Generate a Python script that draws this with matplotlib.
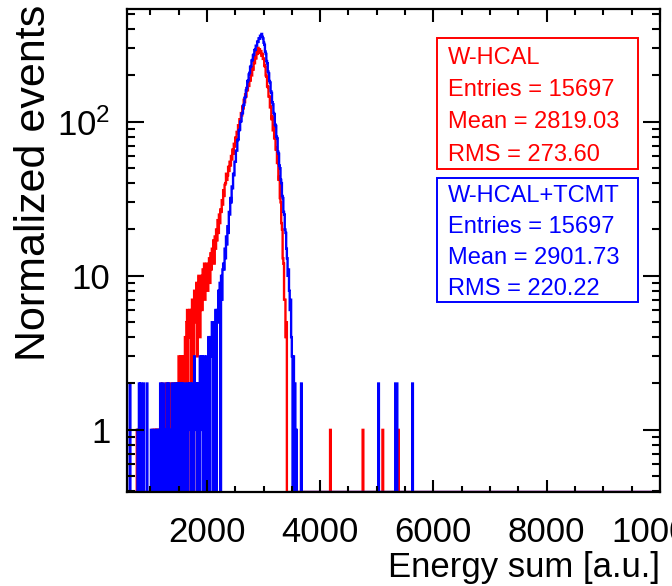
import numpy as np
import matplotlib
matplotlib.use("Agg")
import matplotlib.pyplot as plt
from matplotlib.patches import Rectangle
from matplotlib.ticker import FixedLocator, FixedFormatter, NullFormatter

plt.rcParams.update({
    "font.family": ["Liberation Sans", "DejaVu Sans"],
    "mathtext.fontset": "custom",
    "mathtext.rm": "Liberation Sans",
})

# histogram binning (ROOT style: 800 bins over 0..10000)
BIN_W = 12.5
X_MAX = 10000.0
CORE_START = 600.0   # first bin of the core lists below

# W-HCAL bin contents, 600..3600, one row = 100 units (8 bins)
red_core = [
    0, 0, 0, 0, 0, 0, 0, 0,
    0, 0, 0, 0, 0, 1, 0, 0,
    1, 0, 0, 1, 1, 0, 0, 0,
    0, 0, 0, 0, 0, 0, 0, 0,
    0, 0, 0, 1, 0, 0, 1, 0,
    1, 0, 1, 0, 0, 1, 0, 1,
    2, 0, 1, 1, 0, 1, 2, 0,
    1, 2, 0, 1, 0, 2, 1, 0,
    1, 2, 0, 0, 2, 1, 0, 2,
    3, 1, 0, 3, 1, 2, 3, 0,
    2, 4, 1, 5, 6, 0, 4, 6,
    4, 6, 2, 7, 4, 0, 8, 5,
    7, 9, 3, 8, 10, 7, 4, 8,
    10, 6, 11, 9, 12, 7, 9, 11,
    12, 8, 10, 13, 9, 14, 11, 15,
    14, 17, 12, 18, 15, 20, 17, 23,
    19, 25, 22, 27, 26, 31, 29, 36,
    33, 39, 40, 46, 42, 45, 51, 48,
    55, 52, 60, 57, 66, 62, 72, 69,
    79, 74, 86, 84, 95, 90, 104, 100,
    114, 110, 126, 122, 139, 134, 151, 146,
    165, 160, 178, 171, 192, 185, 206, 200,
    226, 218, 247, 240, 266, 258, 288, 276,
    302, 290, 296, 280, 288, 268, 276, 256,
    258, 232, 228, 200, 196, 170, 168, 146,
    146, 124, 126, 104, 108, 88, 94, 78,
    80, 66, 68, 54, 56, 42, 44, 32,
    30, 22, 20, 13, 12, 7, 7, 4,
    5, 0, 0, 0, 0, 0, 0, 0,
    0, 0, 0, 0, 0, 0, 0, 0,
]

# W-HCAL+TCMT bin contents, 600..3600
blue_core = [
    0, 0, 0, 2, 0, 0, 0, 0,
    0, 0, 0, 0, 0, 0, 1, 0,
    2, 0, 2, 0, 1, 0, 2, 0,
    0, 0, 0, 2, 0, 0, 0, 0,
    0, 1, 0, 0, 0, 1, 0, 0,
    0, 1, 0, 0, 1, 0, 2, 1,
    1, 0, 2, 1, 0, 1, 0, 2,
    0, 1, 2, 0, 1, 0, 0, 2,
    1, 0, 1, 2, 0, 0, 2, 1,
    2, 0, 1, 2, 0, 2, 1, 0,
    1, 2, 0, 1, 0, 2, 1, 2,
    2, 0, 1, 2, 2, 0, 3, 2,
    1, 2, 0, 1, 2, 0, 3, 1,
    2, 3, 0, 3, 1, 0, 2, 3,
    3, 0, 4, 2, 0, 4, 3, 5,
    4, 0, 3, 5, 6, 0, 6, 5,
    8, 5, 9, 0, 10, 7, 11, 12,
    11, 15, 13, 18, 16, 21, 19, 26,
    25, 32, 30, 38, 37, 46, 45, 55,
    55, 65, 65, 76, 77, 88, 89, 100,
    101, 113, 114, 127, 129, 143, 145, 160,
    166, 183, 186, 203, 208, 227, 230, 250,
    252, 270, 274, 292, 294, 312, 312, 332,
    330, 348, 346, 362, 360, 372, 356, 348,
    326, 316, 286, 276, 248, 240, 212, 206,
    184, 180, 158, 154, 134, 130, 114, 112,
    96, 94, 80, 78, 64, 62, 52, 50,
    42, 40, 33, 32, 26, 25, 20, 19,
    15, 13, 10, 11, 8, 6, 7, 4,
    3, 0, 3, 0, 2, 0, 1, 0,
]

# isolated entries in the high-energy tail
red_tail_x = [3665, 4180, 4760, 5100, 5380]
red_tail_n = [1, 1, 1, 1, 1]
blue_tail_x = [3665, 5030, 5330, 5345, 5360, 5630]
blue_tail_n = [2, 2, 2, 2, 2, 2]

red_stats = ["W-HCAL", "Entries = 15697", "Mean = 2819.03", "RMS = 273.60"]
blue_stats = ["W-HCAL+TCMT", "Entries = 15697", "Mean = 2901.73", "RMS = 220.22"]

X_LO, Y_LO, Y_HI = 590, 0.395, 540


def fill_hist(core, tail_x, tail_n):
    edges = np.arange(0, X_MAX + BIN_W, BIN_W)
    counts = np.zeros(len(edges) - 1)
    i0 = int(CORE_START / BIN_W)
    counts[i0:i0 + len(core)] = core
    for x, n in zip(tail_x, tail_n):
        counts[int(x // BIN_W)] += n
    return edges, counts


fig = plt.figure(figsize=(6.72, 5.86), dpi=100)
ax = fig.add_axes([127 / 672, 1 - 492 / 586, (660 - 127) / 672, (492 - 9) / 586])

for core, tx, tn, col in [(red_core, red_tail_x, red_tail_n, "#ff0000"),
                          (blue_core, blue_tail_x, blue_tail_n, "#0000ff")]:
    edges, counts = fill_hist(core, tx, tn)
    # empty bins are drawn on the frame bottom, as ROOT does on a log axis
    ax.stairs(np.where(counts > 0, counts, Y_LO), edges, color=col, lw=1.7,
              baseline=None)

ax.set_yscale("log")
ax.set_xlim(X_LO, X_MAX)
ax.set_ylim(Y_LO, Y_HI)

ax.xaxis.set_major_locator(FixedLocator([2000, 4000, 6000, 8000, 10000]))
ax.xaxis.set_major_formatter(FixedFormatter(["2000", "4000", "6000", "8000", "10000"]))
ax.xaxis.set_minor_locator(FixedLocator(np.arange(1000, 10000, 500)))
ax.yaxis.set_major_locator(FixedLocator([1, 10, 100]))
ax.yaxis.set_major_formatter(FixedFormatter(["1", "10", r"$\mathregular{10^{2}}$"]))
minors = [m * 10.0 ** e for e in (-1, 0, 1, 2) for m in range(2, 10)]
ax.yaxis.set_minor_locator(FixedLocator(minors))
ax.yaxis.set_minor_formatter(NullFormatter())

ax.tick_params(axis="both", which="both", direction="in", top=True, right=True,
               width=1.5, labelsize=25)
ax.tick_params(axis="x", which="major", length=9, pad=17)
ax.tick_params(axis="x", which="minor", length=4.5)
ax.tick_params(axis="y", which="major", length=12, pad=12)
ax.tick_params(axis="y", which="minor", length=6)
for s in ax.spines.values():
    s.set_linewidth(1.6)

ax.set_xlabel("Energy sum [a.u.]", fontsize=25, loc="right", labelpad=2)
ax.set_ylabel("Normalized events", fontsize=31, loc="top")
ax.yaxis.set_label_coords(-0.137, 1.008)


def stats_box(y_top, y_bot, lines, col, baselines):
    fig.patches.append(Rectangle((437 / 672, 1 - y_bot / 586), (638 - 437) / 672,
                                 (y_bot - y_top) / 586, transform=fig.transFigure,
                                 facecolor="white", edgecolor=col, lw=1.4, zorder=5))
    for txt, yb in zip(lines, baselines):
        fig.text(448 / 672, 1 - yb / 586, txt, color=col, fontsize=17,
                 ha="left", va="baseline", zorder=6)


stats_box(38, 169, red_stats, "#ff0000", [64, 96, 128, 161])
stats_box(178, 302, blue_stats, "#0000ff", [202, 233, 264, 295])

fig.savefig("out.png", dpi=100)
